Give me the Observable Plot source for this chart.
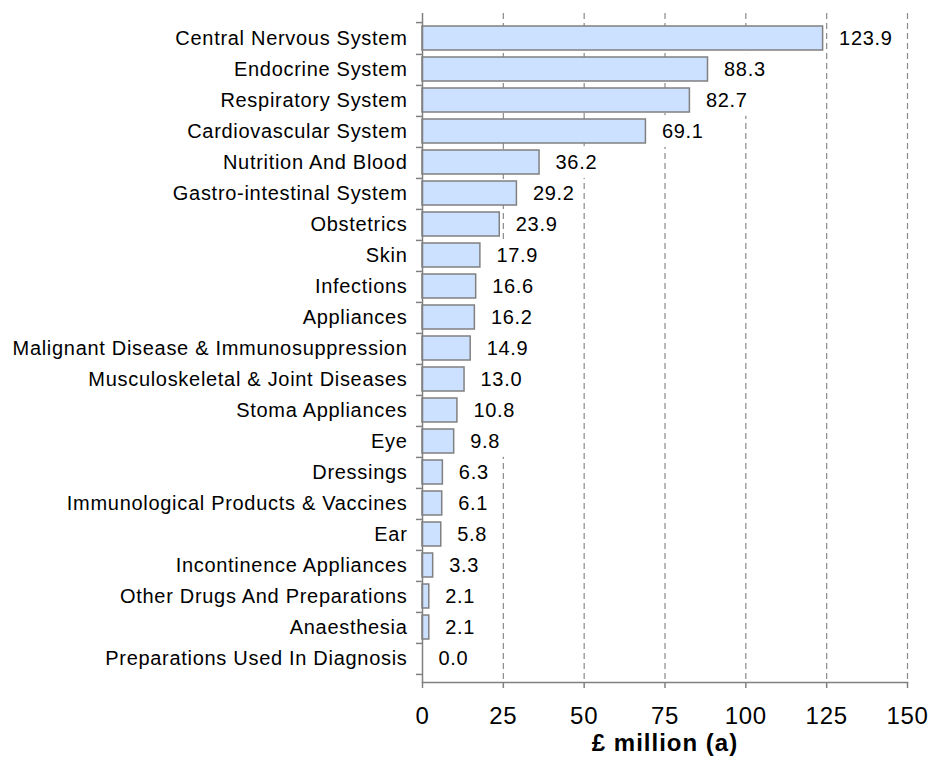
<!DOCTYPE html>
<html>
<head>
<meta charset="utf-8">
<script src="https://cdn.jsdelivr.net/npm/d3@7"></script>
<script src="https://cdn.jsdelivr.net/npm/@observablehq/plot@0.6"></script>
<style>
  html, body { margin: 0; padding: 0; background: #fff; }
  #chart svg text { letter-spacing: 0.7px; }
</style>
</head>
<body>
<div id="chart"></div>
<script>
const categories = [
  "Central Nervous System",
  "Endocrine System",
  "Respiratory System",
  "Cardiovascular System",
  "Nutrition And Blood",
  "Gastro-intestinal System",
  "Obstetrics",
  "Skin",
  "Infections",
  "Appliances",
  "Malignant Disease & Immunosuppression",
  "Musculoskeletal & Joint Diseases",
  "Stoma Appliances",
  "Eye",
  "Dressings",
  "Immunological Products & Vaccines",
  "Ear",
  "Incontinence Appliances",
  "Other Drugs And Preparations",
  "Anaesthesia",
  "Preparations Used In Diagnosis"
];
const values = [123.9, 88.3, 82.7, 69.1, 36.2, 29.2, 23.9, 17.9, 16.6, 16.2, 14.9, 13.0, 10.8, 9.8, 6.3, 6.1, 5.8, 3.3, 2.1, 2.1, 0.0];
const xTicks = [0, 25, 50, 75, 100, 125, 150];
const axisTitle = "£ million (a)";

const data = categories.map((c, i) => ({cat: c, value: values[i], label: values[i].toFixed(1)}));

const W = 933, H = 762, mTop = 13, mBottom = 80, mLeft = 422, mRight = 26;
const step = (H - mTop - mBottom) / categories.length;
const pin = 0.24;
const gapHalf = step * pin / 2;
const valueFont = 20;
const labelDx = 16;
// approximate label text width in px by character type
const textW = s => [...s].reduce((a, ch) => a + (ch === "." ? 0.278 : 0.556) * valueFont + 0.7, 0);

const lengths = Array.from(new Set(data.map(d => d.label.length)));
const boxMarks = lengths.map(L => {
  const sub = data.filter(d => d.label.length === L);
  const w = textW(sub[0].label);
  return Plot.barX(sub, {
    y: "cat", x1: "value", x2: "value",
    insetLeft: labelDx - 4, insetRight: -(labelDx + w + 8),
    insetTop: -gapHalf, insetBottom: -gapHalf,
    fill: "white"
  });
});

const chart = Plot.plot({
  width: W, height: H,
  marginTop: mTop, marginBottom: mBottom, marginLeft: mLeft, marginRight: mRight,
  style: {fontFamily: "'Liberation Sans', Arial, sans-serif", color: "#000", background: "#fff"},
  x: {domain: [0, 150], axis: null},
  y: {domain: categories, paddingInner: pin, paddingOuter: pin / 2, axis: null},
  marks: [
    Plot.ruleX(xTicks.slice(1), {stroke: "#8a8a8a", strokeWidth: 1.2, strokeDasharray: "6,4"}),
    ...boxMarks,
    Plot.barX(data, {y: "cat", x: "value", fill: "#cce0ff", stroke: "#808080", strokeWidth: 1.5}),
    Plot.text(data, {y: "cat", x: "value", text: "label", dx: labelDx, textAnchor: "start", fontSize: valueFont, fill: "#000"}),
    Plot.ruleX([0], {stroke: "#808080", strokeWidth: 1.5}),
    Plot.frame({anchor: "bottom", stroke: "#808080", strokeWidth: 1.5}),
    Plot.axisY({tickSize: 6, tickFormat: () => "", stroke: "#808080", strokeWidth: 1.5, dy: step / 2, label: null}),
    Plot.axisY({ticks: [categories[0]], tickSize: 6, tickFormat: () => "", stroke: "#808080", strokeWidth: 1.5, dy: -step / 2, label: null}),
    Plot.axisY({tickSize: 0, tickPadding: 15, fontSize: 20, fill: "#000", label: null}),
    Plot.axisX({ticks: xTicks, tickSize: 6, tickPadding: 18, fontSize: 24, stroke: "#808080", strokeWidth: 1.5, fill: "#000", label: null}),
    Plot.text([axisTitle], {frameAnchor: "bottom", dy: 68, fontSize: 24, fontWeight: "bold", fill: "#000"})
  ]
});
d3.select(chart).selectAll("text")
  .filter(function () { return this.textContent === axisTitle; })
  .style("letter-spacing", "1px");
document.getElementById("chart").appendChild(chart);
</script>
</body>
</html>
